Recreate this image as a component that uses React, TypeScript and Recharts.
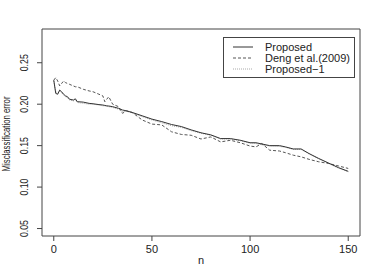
import { LineChart, Line, XAxis, YAxis, ReferenceArea } from 'recharts';

const nValues = [0, 1, 2, 3, 4, 5, 6, 7, 8, 10, 11, 12, 15, 18, 20, 23, 25, 26, 27, 28, 30, 33, 35, 37, 40, 45, 50, 55, 60, 65, 70, 75, 80, 85, 90, 95, 100, 103, 106, 110, 115, 118, 122, 126, 130, 135, 140, 145, 150];

const proposed = [0.229, 0.213, 0.212, 0.217, 0.215, 0.212, 0.21, 0.209, 0.206, 0.205, 0.2065, 0.203, 0.2025, 0.201, 0.2005, 0.1995, 0.199, 0.1985, 0.198, 0.1978, 0.197, 0.195, 0.193, 0.192, 0.19, 0.186, 0.182, 0.179, 0.1755, 0.173, 0.169, 0.1655, 0.163, 0.1585, 0.1585, 0.1565, 0.1535, 0.1535, 0.152, 0.15, 0.15, 0.1485, 0.146, 0.146, 0.1405, 0.1345, 0.129, 0.1235, 0.119];

const deng = [0.229, 0.232, 0.228, 0.222, 0.225, 0.228, 0.226, 0.225, 0.224, 0.222, 0.221, 0.221, 0.218, 0.216, 0.215, 0.212, 0.21, 0.203, 0.206, 0.209, 0.2, 0.197, 0.189, 0.192, 0.19, 0.181, 0.176, 0.175, 0.1667, 0.1635, 0.1625, 0.158, 0.1605, 0.1545, 0.1565, 0.1535, 0.1495, 0.1485, 0.1525, 0.1445, 0.1435, 0.1415, 0.1385, 0.1365, 0.1335, 0.1305, 0.1285, 0.1255, 0.1225];

const proposed1 = [0.228, 0.215, 0.213, 0.216, 0.214, 0.211, 0.209, 0.208, 0.205, 0.204, 0.205, 0.202, 0.201, 0.2, 0.2, 0.199, 0.198, 0.198, 0.1975, 0.197, 0.196, 0.194, 0.191, 0.1915, 0.1895, 0.185, 0.181, 0.1775, 0.174, 0.172, 0.168, 0.165, 0.1625, 0.158, 0.158, 0.156, 0.153, 0.1525, 0.151, 0.1495, 0.149, 0.148, 0.1455, 0.1455, 0.14, 0.134, 0.1285, 0.123, 0.1185];

const xTicks = [0, 50, 100, 150];
const yTicks = [0.05, 0.1, 0.15, 0.2, 0.25];

const legendItems = [
  { label: 'Proposed', color: '#333', dash: undefined },
  { label: 'Deng et al.(2009)', color: '#555', dash: '3 2' },
  { label: 'Proposed\u22121', color: '#aaa', dash: '1 1' },
];

const FONT = '"Liberation Sans", Arial, sans-serif';

const data = nValues.map((n, i) => ({
  n,
  proposed: proposed[i],
  deng: deng[i],
  proposed1: proposed1[i],
}));

function XTick({ x, y, payload }: any) {
  return (
    <text x={x} y={y + 10} textAnchor="middle" fontSize={11} fill="#222" fontFamily={FONT}>
      {payload.value}
    </text>
  );
}

function YTick({ x, y, payload }: any) {
  const label = payload.value.toFixed(2);
  return (
    <text
      transform={`translate(${x - 7}, ${y}) rotate(-90)`}
      textAnchor="middle"
      fontSize={11}
      fill="#222"
      fontFamily={FONT}
      textLength={17}
      lengthAdjust="spacingAndGlyphs"
    >
      {label}
    </text>
  );
}

function LegendBox() {
  return (
    <div
      style={{
        position: 'absolute',
        left: 223,
        top: 37,
        width: 132,
        height: 41,
        border: '1px solid #444',
        background: '#fff',
        fontFamily: FONT,
        fontSize: 11,
        color: '#222',
        boxSizing: 'border-box',
        paddingTop: 4,
      }}
    >
      {legendItems.map((it) => (
        <div key={it.label} style={{ display: 'flex', alignItems: 'center', height: 10.8, lineHeight: '11px' }}>
          <svg width={41} height={6} style={{ flex: 'none' }}>
            <line x1={9} x2={29} y1={3} y2={3} stroke={it.color} strokeWidth={1} strokeDasharray={it.dash} />
          </svg>
          <span>{it.label}</span>
        </div>
      ))}
    </div>
  );
}

export default function App() {
  return (
    <div style={{ position: 'relative', width: 382, height: 273, background: '#fff' }}>
      <style>{`body{margin:0}`}</style>
      <LineChart width={382} height={273} data={data} margin={{ top: 29, right: 22, left: 0, bottom: 0 }}>
        <XAxis
          dataKey="n"
          type="number"
          domain={[-6, 156]}
          ticks={xTicks}
          axisLine={false}
          tickLine={{ stroke: '#444' }}
          tickSize={5}
          height={37}
          tick={<XTick />}
          allowDataOverflow
        />
        <YAxis
          type="number"
          domain={[0.041, 0.2907]}
          ticks={yTicks}
          axisLine={false}
          tickLine={{ stroke: '#444' }}
          tickSize={5}
          width={42}
          tick={<YTick />}
          allowDataOverflow
        />
        <ReferenceArea
          x1={-6}
          x2={156}
          y1={0.041}
          y2={0.2907}
          fill="none"
          stroke="#444"
          strokeWidth={1}
          ifOverflow="visible"
        />
        <Line dataKey="proposed1" stroke="#aaa" strokeWidth={1} strokeDasharray="1 1" dot={false} isAnimationActive={false} />
        <Line dataKey="deng" stroke="#555" strokeWidth={1} strokeDasharray="3 2" dot={false} isAnimationActive={false} />
        <Line dataKey="proposed" stroke="#333" strokeWidth={1} dot={false} isAnimationActive={false} />
        <text x={201} y={264} textAnchor="middle" fontSize={11} fill="#222" fontFamily={FONT}>
          n
        </text>
        <text
          transform="translate(9.5, 134) rotate(-90)"
          textAnchor="middle"
          fontSize={11}
          fill="#222"
          fontFamily={FONT}
          textLength={75}
          lengthAdjust="spacingAndGlyphs"
        >
          Misclassification error
        </text>
      </LineChart>
      <LegendBox />
    </div>
  );
}
